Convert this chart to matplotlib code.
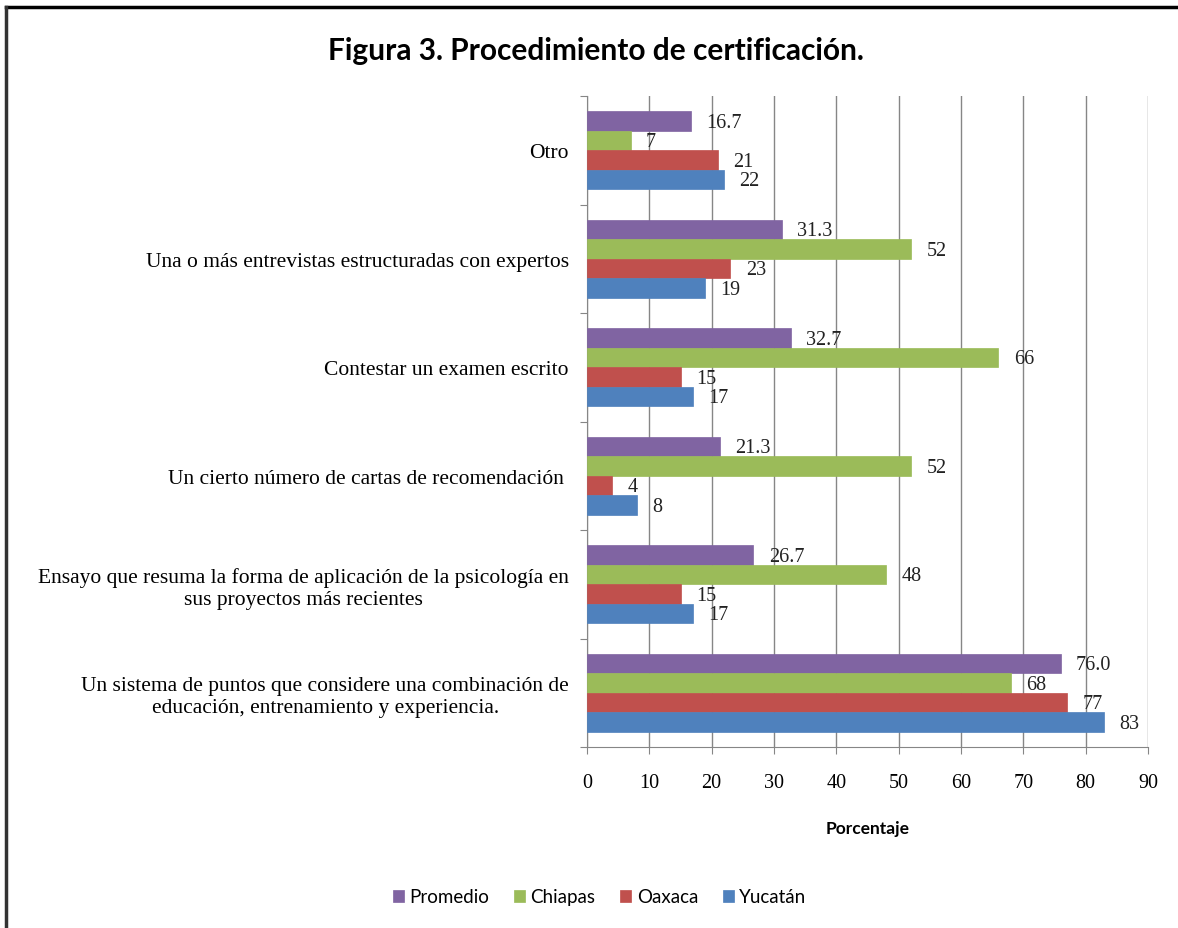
import numpy as np
import matplotlib
matplotlib.use("Agg")
import matplotlib.pyplot as plt
from matplotlib.lines import Line2D

# categories, top to bottom as in the figure
categorias = [
    "Otro",
    "Una o más entrevistas estructuradas con expertos",
    "Contestar un examen escrito",
    "Un cierto número de cartas de recomendación ",
    "Ensayo que resuma la forma de aplicación de la psicología en\nsus proyectos más recientes",
    "Un sistema de puntos que considere una combinación de\neducación, entrenamiento y experiencia.",
]
promedio = [16.7, 31.3, 32.7, 21.3, 26.7, 76.0]
chiapas = [7, 52, 66, 52, 48, 68]
oaxaca = [21, 23, 15, 4, 15, 77]
yucatan = [22, 19, 17, 8, 17, 83]

series = [
    ("Promedio", promedio, "#8064A2", "{:.1f}"),
    ("Chiapas", chiapas, "#9BBB59", "{:.0f}"),
    ("Oaxaca", oaxaca, "#C0504D", "{:.0f}"),
    ("Yucatán", yucatan, "#4F81BD", "{:.0f}"),
]

serif = ["Liberation Serif", "DejaVu Serif"]
sans = ["Lato", "DejaVu Sans"]

fig = plt.figure(figsize=(11.78, 9.29), dpi=100)
ax = fig.add_axes([587 / 1178, 1 - 748 / 929, (1148 - 587) / 1178, (748 - 97) / 929])

y = np.arange(len(categorias))
h = 0.18
handles = []
for i, (name, vals, color, fmt) in enumerate(series):
    pos = y + (i - 1.5) * h
    bars = ax.barh(pos, vals, height=h, color=color, edgecolor=color, linewidth=0.5, label=name, zorder=3)
    handles.append(bars)
    for p, v in zip(pos, vals):
        ax.annotate(fmt.format(v), (v, p), xytext=(11, -1), textcoords="offset points",
                    ha="left", va="center", fontsize=14.5, family=serif, color="#222222")

ax.set_xlim(0, 90)
ax.set_ylim(len(categorias) - 0.5, -0.5)
ax.set_xticks(np.arange(0, 91, 10))
ax.xaxis.grid(True, color="#868686", linewidth=1, zorder=0)
ax.set_yticks(np.arange(-0.5, len(categorias) + 0.5, 1))
ax.set_yticklabels([])
ax.set_yticks(y, minor=True)
ax.set_yticklabels(categorias, minor=True, fontsize=15.5, family=serif, multialignment="center")
ax.tick_params(axis="y", which="minor", length=0, pad=13)
ax.tick_params(axis="y", which="major", length=5, color="#868686")
ax.tick_params(axis="x", length=5, color="#868686", pad=14)
for lab in ax.get_xticklabels():
    lab.set_family(serif)
    lab.set_fontsize(14.5)

for s in ["top", "right"]:
    ax.spines[s].set_visible(False)
for s in ["left", "bottom"]:
    ax.spines[s].set_color("#868686")

ax.set_xlabel("Porcentaje", fontsize=12.5, fontweight="bold", family=sans, labelpad=20)

fig.suptitle("Figura 3. Procedimiento de certificación.", x=0.506, y=1 - 51 / 929, va="center",
             fontsize=21.5, fontweight="bold", family=sans)

fig.legend(handles=handles, loc="center", bbox_to_anchor=(0.509, 1 - 898 / 929), ncol=4,
           frameon=False, handlelength=0.6, handleheight=0.6, handletextpad=0.3,
           columnspacing=1.3, prop={"family": sans, "size": 13.5})

# outer frame (top and left edges visible in the original capture)
fig.add_artist(Line2D([6 / 1178, 1], [1 - 8 / 929, 1 - 8 / 929], color="black", linewidth=2.5))
fig.add_artist(Line2D([6 / 1178, 6 / 1178], [0, 1 - 8 / 929], color="#333333", linewidth=2.5))

fig.savefig("out.png", dpi=100)
